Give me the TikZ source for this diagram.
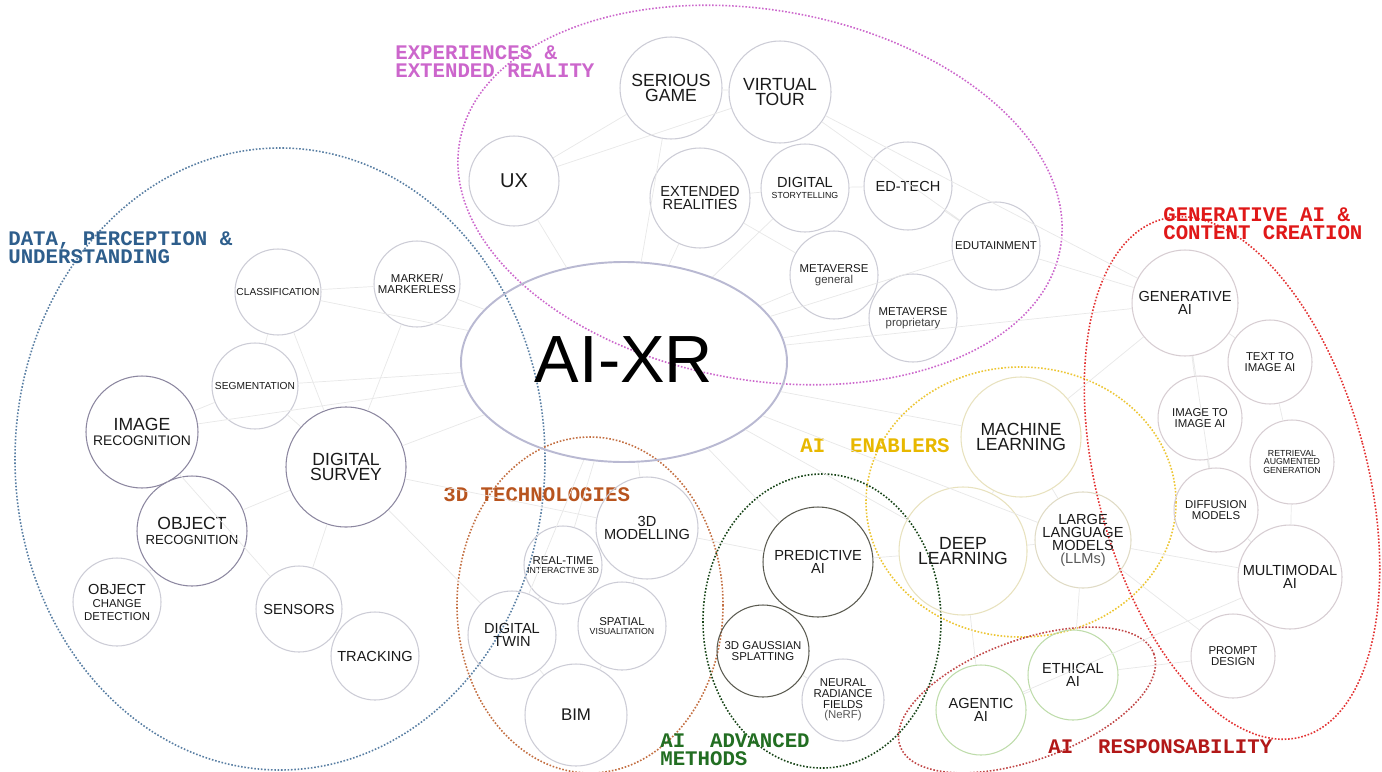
\documentclass[tikz,border=0pt]{standalone}
\usepackage{fontspec}
\setmainfont{Liberation Sans}
\newfontfamily\grpfont{Liberation Mono}
\usetikzlibrary{shapes.geometric}

\definecolor{xrpink}{RGB}{204,102,204}
\definecolor{datablue}{RGB}{46,94,140}
\definecolor{techorange}{RGB}{184,84,30}
\definecolor{enabgold}{RGB}{232,184,0}
\definecolor{advgreen}{RGB}{34,110,34}
\definecolor{respred}{RGB}{178,24,24}
\definecolor{genred}{RGB}{224,24,24}
\definecolor{nodegrey}{RGB}{204,204,214}
\definecolor{nodedark}{RGB}{140,135,160}
\definecolor{nodeblack}{RGB}{90,90,80}
\definecolor{nodegreen}{RGB}{190,220,170}
\definecolor{nodebeige}{RGB}{232,226,190}
\definecolor{nodepink}{RGB}{215,205,210}
\definecolor{aixrline}{RGB}{185,185,210}
\definecolor{txtdark}{RGB}{26,26,26}

\newcommand{\bigtxt}{\fontsize{10}{8.9}\selectfont}
\newcommand{\midtxt}{\fontsize{8.3}{7.4}\selectfont}
\newcommand{\rectxt}{\fontsize{7.5}{6.6}\selectfont}
\newcommand{\smltxt}{\fontsize{6.5}{6}\selectfont}
\newcommand{\xsmtxt}{\fontsize{5.8}{5.2}\selectfont}
\newcommand{\tinytxt}{\fontsize{5}{4.8}\selectfont}

\begin{document}
\begin{tikzpicture}[x=0.02cm,y=-0.02cm,
  topic/.style={circle,draw=nodegrey,line width=0.6pt,inner sep=0pt,align=center,text=txtdark},
  dia/.style={minimum size=#1*0.02cm},
  grplabel/.style={anchor=north west,inner sep=0pt,align=left,font={\grpfont\bfseries\fontsize{11.8}{10.6}\selectfont}},
  group/.style={densely dotted,line width=0.9pt},
  link/.style={draw=black!9,line width=0.4pt}]
  % draw white page
  \fill[white] (0,0) rectangle (1382,771);
  \useasboundingbox (0,0) rectangle (1382,771);

  % draw group ellipses
  \draw[group,draw=xrpink,rotate around={-10:(760,195)}] (760,195) ellipse [x radius=305,y radius=185];
  \draw[group,draw=datablue!80] (280,459) ellipse [x radius=265,y radius=311];
  \draw[group,draw=techorange!85] (590,605) ellipse [x radius=133,y radius=168];
  \draw[group,draw=advgreen!60!black] (822,621) ellipse [x radius=119,y radius=147];
  \draw[group,draw=enabgold!80] (1021,502) ellipse [x radius=155,y radius=135];
  \draw[group,draw=respred!80,rotate around={20:(1027,700)}] (1027,700) ellipse [x radius=135,y radius=60];
  \draw[group,draw=genred!90,rotate around={15:(1232,478)}] (1232,478) ellipse [x radius=135,y radius=268];

  % draw group titles
  \node at(395,45)[grplabel,text=xrpink]{EXPERIENCES \&\\EXTENDED REALITY};
  \node at(8,231)[grplabel,text=datablue]{DATA, PERCEPTION \&\\UNDERSTANDING};
  \node at(443,487)[grplabel,text=techorange]{3D TECHNOLOGIES};
  \node at(800,438)[grplabel,text=enabgold]{AI\ \ ENABLERS};
  \node at(660,733)[grplabel,text=advgreen]{AI\ \ ADVANCED\\METHODS};
  \node at(1048,739)[grplabel,text=respred]{AI\ \ RESPONSABILITY};
  \node at(1163,207)[grplabel,text=genred]{GENERATIVE AI \&\\CONTENT CREATION};

  % draw AI-XR ellipse
  \node at(624,362)[ellipse,draw=aixrline,line width=1.1pt,minimum width=326*0.02cm,minimum height=200*0.02cm,inner sep=0pt,text=black,font={\fontsize{38}{38}\selectfont}](aixr){\raisebox{3pt}{AI-XR}};

  % draw experiences circles
  \node at(671,88)[topic,dia=102,font=\bigtxt](serious){SERIOUS\\GAME};
  \node at(780,92)[topic,dia=102,font=\bigtxt](virtual){VIRTUAL\\TOUR};
  \node at(514,181)[topic,dia=90,font={\fontsize{11.4}{11}\selectfont}](ux){UX};
  \node at(700,198)[topic,dia=100,font=\midtxt](extended){EXTENDED\\REALITIES};
  \node at(805,188)[topic,dia=88,font=\midtxt](story){DIGITAL\\[-1.5pt]{\tinytxt STORYTELLING}};
  \node at(908,186)[topic,dia=88,font=\midtxt](edtech){ED-TECH};
  \node at(996,246)[topic,dia=88,font=\smltxt](edutain){EDUTAINMENT};
  \node at(834,275)[topic,dia=88,font=\smltxt](metagen){METAVERSE\\{\color{black!75}general}};
  \node at(913,318)[topic,dia=88,font=\smltxt](metaprop){METAVERSE\\{\color{black!75}proprietary}};

  % draw data circles
  \node at(278,292)[topic,dia=86,font=\xsmtxt](classif){CLASSIFICATION};
  \node at(417,284)[topic,dia=86,font=\smltxt](marker){MARKER/\\MARKERLESS};
  \node at(255,386)[topic,dia=86,font=\xsmtxt](segment){SEGMENTATION};
  \node at(142,432)[topic,draw=nodedark,dia=112,font=\bigtxt](imagerec){IMAGE\\{\fontsize{7.9}{7}\selectfont RECOGNITION}};
  \node at(346,467)[topic,draw=nodedark,dia=120,font=\bigtxt](survey){DIGITAL\\SURVEY};
  \node at(192,531)[topic,draw=nodedark,dia=110,font=\bigtxt](objrec){OBJECT\\{\rectxt RECOGNITION}};
  \node at(117,602)[topic,dia=88,font=\midtxt](change){OBJECT\\{\smltxt CHANGE}\\{\smltxt DETECTION}};
  \node at(299,609)[topic,dia=86,font=\midtxt](sensors){SENSORS};
  \node at(375,656)[topic,dia=88,font=\midtxt](tracking){TRACKING};

  % draw 3d circles
  \node at(647,528)[topic,dia=102,font=\midtxt](modelling){3D\\MODELLING};
  \node at(563,565)[topic,dia=78,font=\smltxt](realtime){REAL-TIME\\[-1pt]{\tinytxt INTERACTIVE 3D}};
  \node at(512,635)[topic,dia=88,font=\midtxt](twin){DIGITAL\\TWIN};
  \node at(622,626)[topic,dia=88,font=\smltxt](spatial){SPATIAL\\[-1pt]{\tinytxt VISUALITATION}};
  \node at(576,715)[topic,dia=102,font={\fontsize{9.6}{8}\selectfont}](bim){BIM};

  % draw advanced methods circles
  \node at(818,562)[topic,draw=nodeblack,dia=110,font=\midtxt](predictive){PREDICTIVE\\AI};
  \node at(763,651)[topic,draw=nodeblack,dia=92,font=\smltxt](gaussian){3D GAUSSIAN\\SPLATTING};
  \node at(843,700)[topic,dia=82,font=\smltxt](nerf){NEURAL\\RADIANCE\\FIELDS\\{\color{black!65}(NeRF)}};

  % draw enablers circles
  \node at(1021,437)[topic,draw=nodebeige,dia=120,font=\bigtxt](machine){MACHINE\\LEARNING};
  \node at(963,551)[topic,draw=nodebeige,dia=128,font=\bigtxt](deep){DEEP\\LEARNING};
  \node at(1083,540)[topic,draw=nodebeige!70!nodegrey,dia=90,font=\midtxt](llm){LARGE\\LANGUAGE\\MODELS\\{\color{black!65}(LLMs)}};

  % draw responsability circles
  \node at(981,710)[topic,draw=nodegreen,dia=90,font=\midtxt](agentic){AGENTIC\\AI};
  \node at(1073,675)[topic,draw=nodegreen,dia=90,font=\midtxt](ethical){ETHICAL\\AI};

  % draw generative circles
  \node at(1185,303)[topic,draw=nodepink,dia=106,font=\midtxt](genai){GENERATIVE\\AI};
  \node at(1270,362)[topic,draw=nodepink,dia=84,font=\smltxt](textimg){TEXT TO\\IMAGE AI};
  \node at(1200,418)[topic,draw=nodepink,dia=84,font=\smltxt](imgimg){IMAGE TO\\IMAGE AI};
  \node at(1292,462)[topic,draw=nodepink,dia=84,font=\tinytxt](rag){RETRIEVAL\\AUGMENTED\\GENERATION};
  \node at(1216,510)[topic,draw=nodepink,dia=84,font=\smltxt](diffusion){DIFFUSION\\MODELS};
  \node at(1290,577)[topic,draw=nodepink,dia=104,font=\midtxt](multimodal){MULTIMODAL\\AI};
  \node at(1233,656)[topic,draw=nodepink,dia=84,font=\smltxt](prompt){PROMPT\\DESIGN};

  % draw faint links from AI-XR
  \draw[link] (aixr) -- (ux) (aixr) -- (serious) (aixr) -- (extended) (aixr) -- (story)
    (aixr) -- (metagen) (aixr) -- (metaprop) (aixr) -- (edutain) (aixr) -- (classif)
    (aixr) -- (marker) (aixr) -- (segment) (aixr) -- (survey) (aixr) -- (imagerec)
    (aixr) -- (modelling) (aixr) -- (realtime) (aixr) -- (twin) (aixr) -- (predictive)
    (aixr) -- (deep) (aixr) -- (machine) (aixr) -- (genai) (aixr) -- (llm);
  % draw faint links between topics
  \draw[link] (ux) -- (serious) (ux) -- (virtual) (serious) -- (virtual) (extended) -- (story)
    (story) -- (edtech) (edtech) -- (edutain) (virtual) -- (edutain) (virtual) -- (genai)
    (edutain) -- (genai) (extended) -- (metagen) (metagen) -- (metaprop);
  \draw[link] (classif) -- (marker) (classif) -- (segment) (segment) -- (imagerec)
    (imagerec) -- (objrec) (objrec) -- (change) (segment) -- (survey) (survey) -- (sensors)
    (sensors) -- (tracking) (survey) -- (objrec) (marker) -- (survey) (survey) -- (twin)
    (survey) -- (modelling) (imagerec) -- (sensors) (classif) -- (survey);
  \draw[link] (modelling) -- (realtime) (realtime) -- (twin) (twin) -- (bim) (spatial) -- (bim)
    (realtime) -- (spatial) (modelling) -- (spatial) (modelling) -- (predictive);
  \draw[link] (predictive) -- (gaussian) (gaussian) -- (nerf) (predictive) -- (deep)
    (deep) -- (machine) (deep) -- (llm) (machine) -- (llm) (machine) -- (genai)
    (llm) -- (multimodal) (llm) -- (prompt) (deep) -- (agentic) (llm) -- (ethical)
    (agentic) -- (ethical) (ethical) -- (prompt) (agentic) -- (multimodal);
  \draw[link] (genai) -- (imgimg) (genai) -- (textimg) (imgimg) -- (diffusion)
    (diffusion) -- (multimodal) (rag) -- (multimodal) (genai) -- (diffusion)
    (multimodal) -- (prompt) (textimg) -- (rag);
\end{tikzpicture}
\end{document}
